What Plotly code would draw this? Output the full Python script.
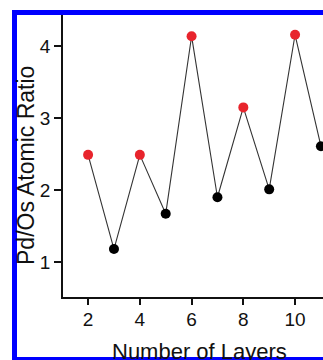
import plotly.graph_objects as go

layers = [2, 3, 4, 5, 6, 7, 8, 9, 10, 11]
ratio = [2.49, 1.18, 2.49, 1.67, 4.14, 1.90, 3.15, 2.01, 4.16, 2.61]
marker_colors = ["#e8242c", "#000000"] * 5
x_ticks = [2, 4, 6, 8, 10]
y_ticks = [1, 2, 3, 4]

W, H = 323, 360
L, R, T, B = 63, 0, 15, 360 - 297
pw, ph = W - L - R, H - T - B

def px_x(p):
    return (p - L) / pw

def px_y(p):
    return (H - B - p) / ph

fig = go.Figure()
fig.add_trace(go.Scatter(
    x=layers, y=ratio, mode="lines+markers",
    line=dict(color="#333333", width=1.1),
    marker=dict(size=10, color=marker_colors, line=dict(width=0)),
    cliponaxis=False, showlegend=False,
))

font = "Liberation Sans, Arial, sans-serif"
fig.update_layout(
    width=W, height=H,
    margin=dict(l=L, r=R, t=T, b=B),
    paper_bgcolor="white", plot_bgcolor="white",
    font=dict(family=font, color="#111111"),
    xaxis=dict(range=[1.03, 11.08], tickvals=x_ticks, ticks="outside", ticklen=6,
               tickwidth=1.5, tickcolor="#111111", showline=True, linecolor="#111111",
               linewidth=1.5, showgrid=False, zeroline=False, ticklabelstandoff=-2,
               tickfont=dict(size=19, family=font)),
    yaxis=dict(range=[0.513, 4.435], tickvals=y_ticks, ticks="outside", ticklen=7,
               tickwidth=1.5, tickcolor="#111111", showline=True, linecolor="#111111",
               linewidth=1.5, showgrid=False, zeroline=False, ticklabelstandoff=0,
               tickfont=dict(size=19, family=font)),
    annotations=[
        dict(text="Pd/Os Atomic Ratio", textangle=-90, xref="paper", yref="paper",
             x=px_x(26), y=px_y(166), xanchor="center", yanchor="middle",
             showarrow=False, font=dict(size=23, family=font, color="#111111")),
        dict(text="Number of Layers", xref="paper", yref="paper",
             x=px_x(199), y=px_y(352), xanchor="center", yanchor="middle",
             showarrow=False, font=dict(size=22, family=font, color="#111111")),
    ],
    shapes=[
        dict(type="rect", xref="paper", yref="paper", x0=px_x(12), x1=px_x(330),
             y0=px_y(10), y1=px_y(15), fillcolor="#0000ff", line=dict(width=0), layer="above"),
        dict(type="rect", xref="paper", yref="paper", x0=px_x(12), x1=px_x(17),
             y0=px_y(10), y1=px_y(365), fillcolor="#0000ff", line=dict(width=0), layer="above"),
        dict(type="rect", xref="paper", yref="paper", x0=px_x(12), x1=px_x(330),
             y0=px_y(357), y1=px_y(365), fillcolor="#0000ff", line=dict(width=0), layer="above"),
    ],
)

fig.write_html(
    "out.html",
    config={"displayModeBar": False},
    post_script="document.body.style.margin='0';document.body.style.overflow='hidden';",
)
